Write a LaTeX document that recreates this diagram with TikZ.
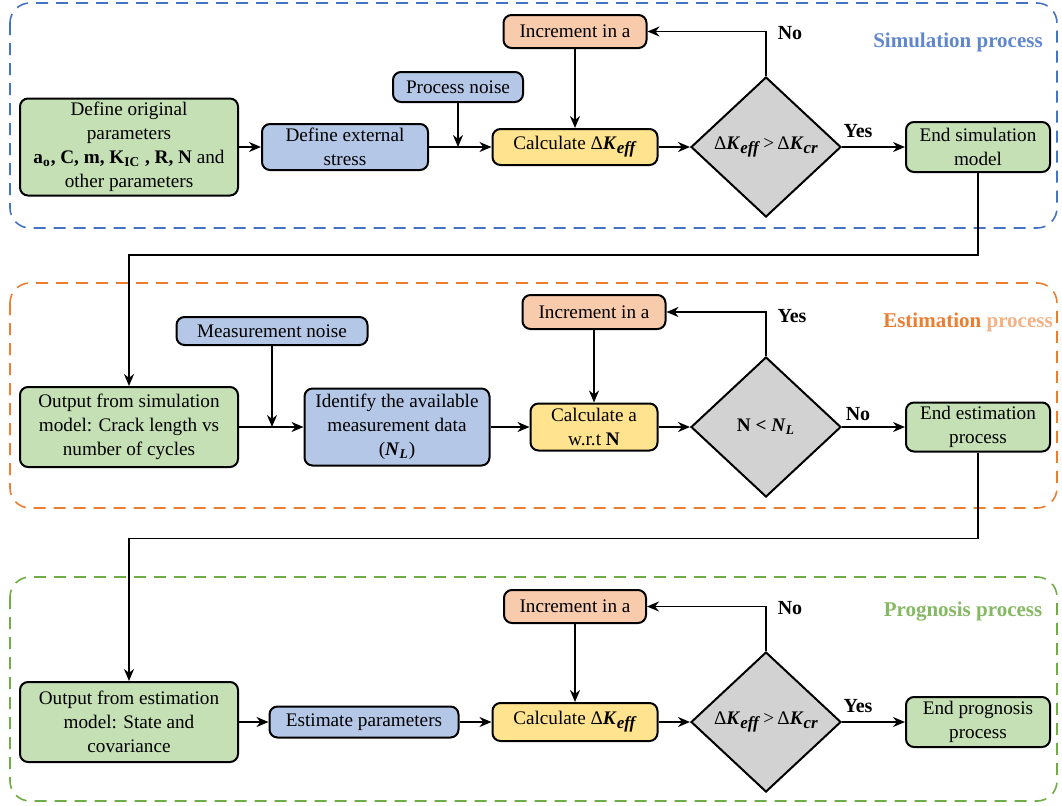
\documentclass[tikz,border=0pt]{standalone}
\usepackage{fontspec}
\setmainfont{Liberation Serif}
\usetikzlibrary{arrows.meta,positioning,shapes.geometric}

\definecolor{cgreen}{HTML}{C5E0B4}
\definecolor{cblue}{HTML}{B4C7E7}
\definecolor{cyellow}{HTML}{FFE38F}
\definecolor{corange}{HTML}{F8CBAD}
\definecolor{cgrey}{HTML}{D2D2D2}
\definecolor{fblue}{HTML}{4472C4}
\definecolor{forange}{HTML}{ED7D31}
\definecolor{fgreen}{HTML}{70AD47}

% bold italic Delta K with subscript
\newcommand{\dK}[1]{Δ\textbf{\textit{K}}\raisebox{-0.45ex}{\fontsize{8.5}{9}\selectfont\textbf{\textit{#1}}}}
\newcommand{\NL}{\textbf{\textit{N}}\textsubscript{\textbf{\textit{L}}}}

\begin{document}
\begin{tikzpicture}[x=0.5pt, y=-0.5pt,
        font=\fontsize{9.6}{12}\selectfont,
        proc/.style={draw, line width=1pt, rounded corners=4pt, align=center, inner sep=1pt},
        greenbox/.style={proc, fill=cgreen},
        bluebox/.style={proc, fill=cblue},
        yellowbox/.style={proc, fill=cyellow},
        orangebox/.style={proc, fill=corange},
        decision/.style={draw, diamond, line width=1pt, fill=cgrey, inner sep=0pt, aspect=1,
            minimum width=75pt, minimum height=70pt},
        arrow/.style={-{Stealth[length=6pt,width=5pt]}, line width=0.9pt},
        frame/.style={line width=0.8pt, rounded corners=10pt, dash pattern=on 6pt off 4pt},
        answer/.style={font=\fontsize{10}{12}\selectfont\bfseries},
        title/.style={font=\fontsize{10.5}{12}\selectfont\bfseries}
    ]
        \useasboundingbox (0,0) rectangle (1062,805);

        % Rahmen
        \draw[frame, fblue] (10,3) rectangle (1057,228);
        \draw[frame, forange] (10,283) rectangle (1057,508);
        \draw[frame, fgreen] (10,577) rectangle (1057,801);

        \node[title, text=fblue!85] (tsim) at (958,42) {Simulation process};
        \node[title] (test) at (968,322) {\textcolor{forange}{Estimation} \textcolor{forange!60}{process}};
        \node[title, text=fgreen!85] (tprog) at (963,612) {Prognosis process};

        % Simulation
        \node[greenbox, minimum width=109pt, minimum height=48.5pt] (def) at (129,147)
            {Define original\\parameters\\\textbf{a\textsubscript{o}, C, m, K\textsubscript{IC} , R, N} and\\other parameters};
        \node[bluebox, minimum width=83pt, minimum height=23pt] (stress) at (345,147) {Define external\\stress};
        \node[bluebox, minimum width=65pt, minimum height=15pt] (pnoise) at (458,87) {Process noise};
        \node[yellowbox, minimum width=82.5pt, minimum height=18pt] (calc1) at (575,147) {Calculate \dK{eff}};
        \node[orangebox, minimum width=71.5pt, minimum height=16.5pt] (inc1) at (575,31.5) {Increment in a};
        \node[decision] (dec1) at (766,147) {\dK{eff}\,>\,\dK{cr}};
        \node[greenbox, minimum width=72pt, minimum height=25pt] (end1) at (978,147) {End simulation\\model};

        \draw[arrow] (def) -- (stress);
        \draw[arrow] (stress) -- (calc1);
        \draw[arrow] (pnoise) -- (pnoise |- calc1.west);
        \draw[arrow] (inc1) -- (calc1);
        \draw[arrow] (calc1) -- (dec1);
        \draw[arrow] (dec1.north) |- (inc1.east);
        \draw[arrow] (dec1.east) -- (end1);
        \node[answer] (no1) at (790,33) {No};
        \node[answer] (yes1) at (858,131) {Yes};

        % Estimation
        \node[greenbox, minimum width=109pt, minimum height=40pt] (out2) at (129,427)
            {Output from simulation\\model: Crack length vs\\number of cycles};
        \node[bluebox, minimum width=95.5pt, minimum height=14pt] (mnoise) at (272,331) {Measurement noise};
        \node[bluebox, minimum width=92.5pt, minimum height=38.5pt] (ident) at (397,427)
            {Identify the available\\measurement data\\(\NL)};
        \node[yellowbox, minimum width=63.5pt, minimum height=23.5pt] (calc2) at (594,427) {Calculate a\\w.r.t \textbf{N}};
        \node[orangebox, minimum width=71.5pt, minimum height=17pt] (inc2) at (594,312) {Increment in a};
        \node[decision] (dec2) at (766,427) {\textbf{N} \textbf{<} \NL};
        \node[greenbox, minimum width=72pt, minimum height=24.5pt] (end2) at (978,427) {End estimation\\process};

        \draw[arrow] (end1.south) -- ++(0,82) -| (out2.north);
        \draw[arrow] (out2) -- (ident);
        \draw[arrow] (mnoise) -- (mnoise |- out2.east);
        \draw[arrow] (ident) -- (calc2);
        \draw[arrow] (inc2) -- (calc2);
        \draw[arrow] (calc2) -- (dec2);
        \draw[arrow] (dec2.north) |- (inc2.east);
        \draw[arrow] (dec2.east) -- (end2);
        \node[answer] (yes2) at (792,316) {Yes};
        \node[answer] (no2) at (858,414) {No};

        % Prognosis
        \node[greenbox, minimum width=109pt, minimum height=40pt] (out3) at (129,722)
            {Output from estimation\\model: State and\\covariance};
        \node[bluebox, minimum width=94.5pt, minimum height=15.5pt] (est) at (364,722) {Estimate parameters};
        \node[yellowbox, minimum width=82.5pt, minimum height=19pt] (calc3) at (575,722) {Calculate \dK{eff}};
        \node[orangebox, minimum width=71pt, minimum height=16.5pt] (inc3) at (575,606.5) {Increment in a};
        \node[decision] (dec3) at (766,722) {\dK{eff}\,>\,\dK{cr}};
        \node[greenbox, minimum width=72pt, minimum height=25pt] (end3) at (978,722) {End prognosis\\process};

        \draw[arrow] (end2.south) -- ++(0,86) -| (out3.north);
        \draw[arrow] (out3) -- (est);
        \draw[arrow] (est) -- (calc3);
        \draw[arrow] (inc3) -- (calc3);
        \draw[arrow] (calc3) -- (dec3);
        \draw[arrow] (dec3.north) |- (inc3.east);
        \draw[arrow] (dec3.east) -- (end3);
        \node[answer] (no3) at (790,608) {No};
        \node[answer] (yes3) at (858,706) {Yes};
    \end{tikzpicture}
\end{document}
